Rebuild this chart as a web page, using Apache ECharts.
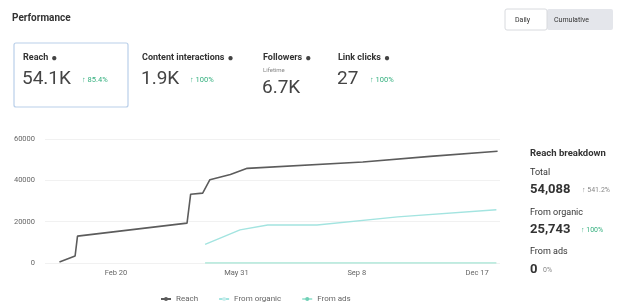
<!DOCTYPE html>
<html>
<head>
<meta charset="utf-8">
<script src="https://cdn.jsdelivr.net/npm/echarts@6/dist/echarts.min.js"></script>
</head>
<body style="margin:0;background:#fff">
<div id="container" style="width:625px;height:304px;"></div>
<script type="text/javascript">
// x positions are days counted from the first tick date (Feb 20)
var tickDays = [0, 100, 200, 300];
var tickLabels = ['Feb 20', 'May 31', 'Sep 8', 'Dec 17'];

var reachDays   = [-47, -34, -32, 59, 62, 72, 78, 95, 109, 205, 261, 317];
var reachValues = [500, 3400, 13000, 19300, 33300, 33800, 40300, 42800, 45800, 48900, 51600, 54088];

var organicDays   = [74, 103, 126, 167, 234, 316];
var organicValues = [9000, 16000, 18400, 18400, 22300, 25743];

var adsDays   = [74, 316];
var adsValues = [0, 0];

var seriesNames = ['Reach', 'From organic', 'From ads'];

function pairs(xs, ys) {
    var out = [];
    for (var i = 0; i < xs.length; i++) out.push([xs[i], ys[i]]);
    return out;
}

var FONT = 'Roboto, "Liberation Sans", sans-serif';
function txt(x, y, s, size, color, weight) {
    return {
        type: 'text', x: x, y: y, silent: true,
        style: {
            text: s, fill: color || '#333', fontSize: size, fontWeight: weight || 'normal',
            fontFamily: FONT, textVerticalAlign: 'middle', textAlign: 'left'
        }
    };
}
// metric label followed by the small info dot
function label(x, y, s) {
    return {
        type: 'text', x: x, y: y, silent: true,
        style: {
            text: '{t|' + s + '} {i|●}', fontFamily: FONT,
            textVerticalAlign: 'middle', textAlign: 'left',
            rich: {
                t: { fontSize: 9, fontWeight: 'bold', fill: '#333', fontFamily: FONT },
                i: { fontSize: 10, fill: '#444', fontFamily: FONT }
            }
        }
    };
}

var green = '#35b07f';
var graphics = [
    txt(12, 18, 'Performance', 10, '#333', 'bold'),
    // view toggle
    { type: 'rect', shape: { x: 547, y: 9, width: 66, height: 21, r: 2 }, style: { fill: '#e4e6eb' } },
    { type: 'rect', shape: { x: 505, y: 9, width: 42, height: 21, r: 2 }, style: { fill: '#fff', stroke: '#d8dade', lineWidth: 1 } },
    txt(515, 20, 'Daily', 7, '#333'),
    txt(554, 20, 'Cumulative', 7, '#333'),
    // reach card
    { type: 'rect', shape: { x: 14, y: 43, width: 114, height: 64, r: 2 }, style: { fill: '#fff', stroke: '#b9cfe9', lineWidth: 1.2 } },
    label(23, 58, 'Reach'),
    txt(22, 79, '54.1K', 19, '#444'),
    txt(82, 80, '↑ 85.4%', 7.5, green),
    label(142, 58, 'Content interactions'),
    txt(141, 79, '1.9K', 19, '#444'),
    txt(190, 80, '↑ 100%', 7.5, green),
    label(263, 58, 'Followers'),
    txt(263, 70, 'Lifetime', 6, '#888'),
    txt(262, 88, '6.7K', 19, '#444'),
    label(338, 58, 'Link clicks'),
    txt(337, 79, '27', 19, '#444'),
    txt(370, 80, '↑ 100%', 7.5, green),
    // breakdown panel
    txt(530, 154, 'Reach breakdown', 9.5, '#333', 'bold'),
    txt(530, 173, 'Total', 9, '#333'),
    txt(530, 190, '54,088', 13, '#333', 'bold'),
    txt(582, 190, '↑ 541.2%', 7, '#888'),
    txt(530, 213, 'From organic', 9, '#333'),
    txt(530, 230, '25,743', 13, '#333', 'bold'),
    txt(581, 230, '↑ 100%', 7, green),
    txt(530, 252, 'From ads', 9, '#333'),
    txt(530, 270, '0', 13, '#333', 'bold'),
    txt(543, 270, '0%', 7, '#888')
];

var dom = document.getElementById('container');
var myChart = echarts.init(dom);
var option = {
    animation: false,
    textStyle: { fontFamily: FONT },
    graphic: graphics,
    legend: {
        data: seriesNames,
        left: 155, top: 290,
        itemWidth: 10, itemHeight: 5, itemGap: 20,
        textStyle: { fontSize: 8, color: '#666' }
    },
    grid: { left: 45, right: 125, top: 139, height: 124 },
    xAxis: {
        type: 'value',
        min: -59, max: 319,
        axisLine: { show: false },
        axisTick: { show: false },
        splitLine: { show: false },
        axisLabel: {
            customValues: tickDays,
            fontSize: 7.5, color: '#666', margin: 6,
            formatter: function (v) { return tickLabels[tickDays.indexOf(v)]; }
        }
    },
    yAxis: {
        type: 'value',
        min: 0, max: 60000, interval: 20000,
        axisLine: { show: false },
        axisTick: { show: false },
        splitLine: { lineStyle: { color: '#f1f1f1' } },
        axisLabel: { fontSize: 7.5, color: '#666', margin: 10, formatter: function (v) { return String(v); } }
    },
    series: [
        {
            name: seriesNames[0], type: 'line', data: pairs(reachDays, reachValues),
            symbol: 'none', lineStyle: { color: '#5c5c5c', width: 1.6 }, itemStyle: { color: '#5c5c5c' }
        },
        {
            name: seriesNames[1], type: 'line', data: pairs(organicDays, organicValues),
            symbol: 'none', lineStyle: { color: '#a3e4e0', width: 1.4 }, itemStyle: { color: '#c9eeec' }
        },
        {
            name: seriesNames[2], type: 'line', data: pairs(adsDays, adsValues),
            symbol: 'none', lineStyle: { color: '#a8e6d6', width: 1.6 }, itemStyle: { color: '#6fd0b6' }
        }
    ]
};
myChart.setOption(option);
</script>
</body>
</html>
